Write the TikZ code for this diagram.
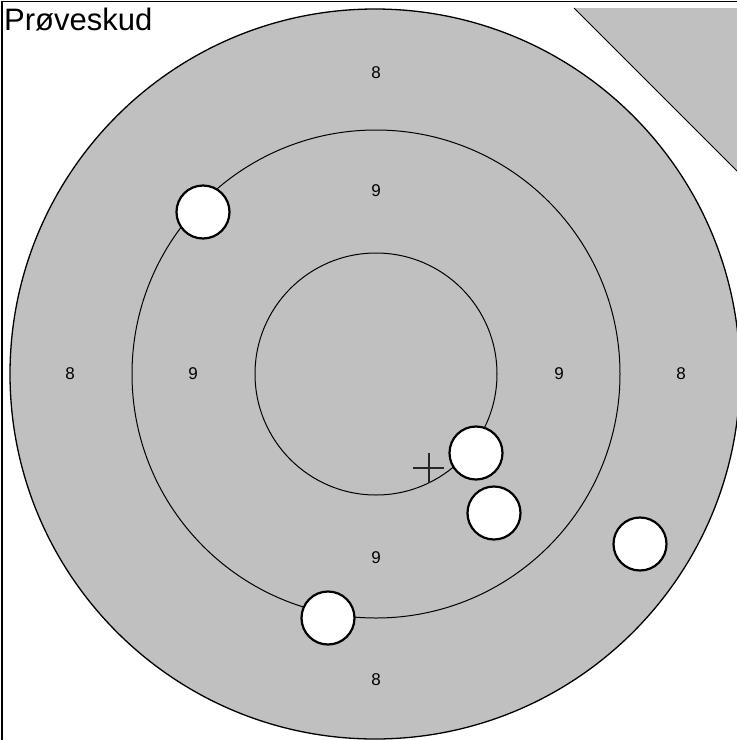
\documentclass[tikz,border=0pt]{standalone}
\usepackage{fontspec}
\setmainfont{Liberation Sans}
\definecolor{targetgray}{HTML}{C0C0C0}
\begin{document}
\begin{tikzpicture}[x=1pt,y=-1pt,
  ring/.style={draw=black,line width=1pt},
  hole/.style={draw=black,fill=white,line width=2.2pt},
  ringlabel/.style={inner sep=0pt,font=\fontsize{17}{17}\selectfont}]
\useasboundingbox (0,0) rectangle (737,740);
\begin{scope}
\clip (0,0) rectangle (737,740);
% frame
\draw[line width=1.5pt] (2,1.5) rectangle (800,800);
% corner triangle
\fill[targetgray] (574,8) -- (760,8) -- (760,194) -- cycle;
\draw[line width=0.8pt] (574,8) -- (760,194);
% target
\draw[fill=targetgray,line width=1.3pt] (375,374) circle (365);
\draw[ring] (376,374) circle (244);
\draw[ring] (376,374) circle (121);
\end{scope}
% labels
\node[ringlabel] (l8t) at (376,73) {8};
\node[ringlabel] (l8b) at (376,680) {8};
\node[ringlabel] (l8l) at (70,374) {8};
\node[ringlabel] (l8r) at (681,374) {8};
\node[ringlabel] (l9t) at (376,191) {9};
\node[ringlabel] (l9b) at (376,558) {9};
\node[ringlabel] (l9l) at (193,374) {9};
\node[ringlabel] (l9r) at (559,374) {9};
% title
\node[anchor=base west,inner sep=0pt,font=\fontsize{31}{31}\selectfont] (title) at (4,30) {Prøveskud};
% aim cross
\draw[line width=1.3pt,black!85] (413,468) -- (444,468);
\draw[line width=1.3pt,black!85] (429,453) -- (429,483);
% shot holes
\draw[hole] (203,212) circle (26.5);
\draw[hole] (476,453) circle (26.5);
\draw[hole] (494,513) circle (26.5);
\draw[hole] (640,544) circle (26.5);
\draw[hole] (328,618) circle (26.5);
\end{tikzpicture}
\end{document}
